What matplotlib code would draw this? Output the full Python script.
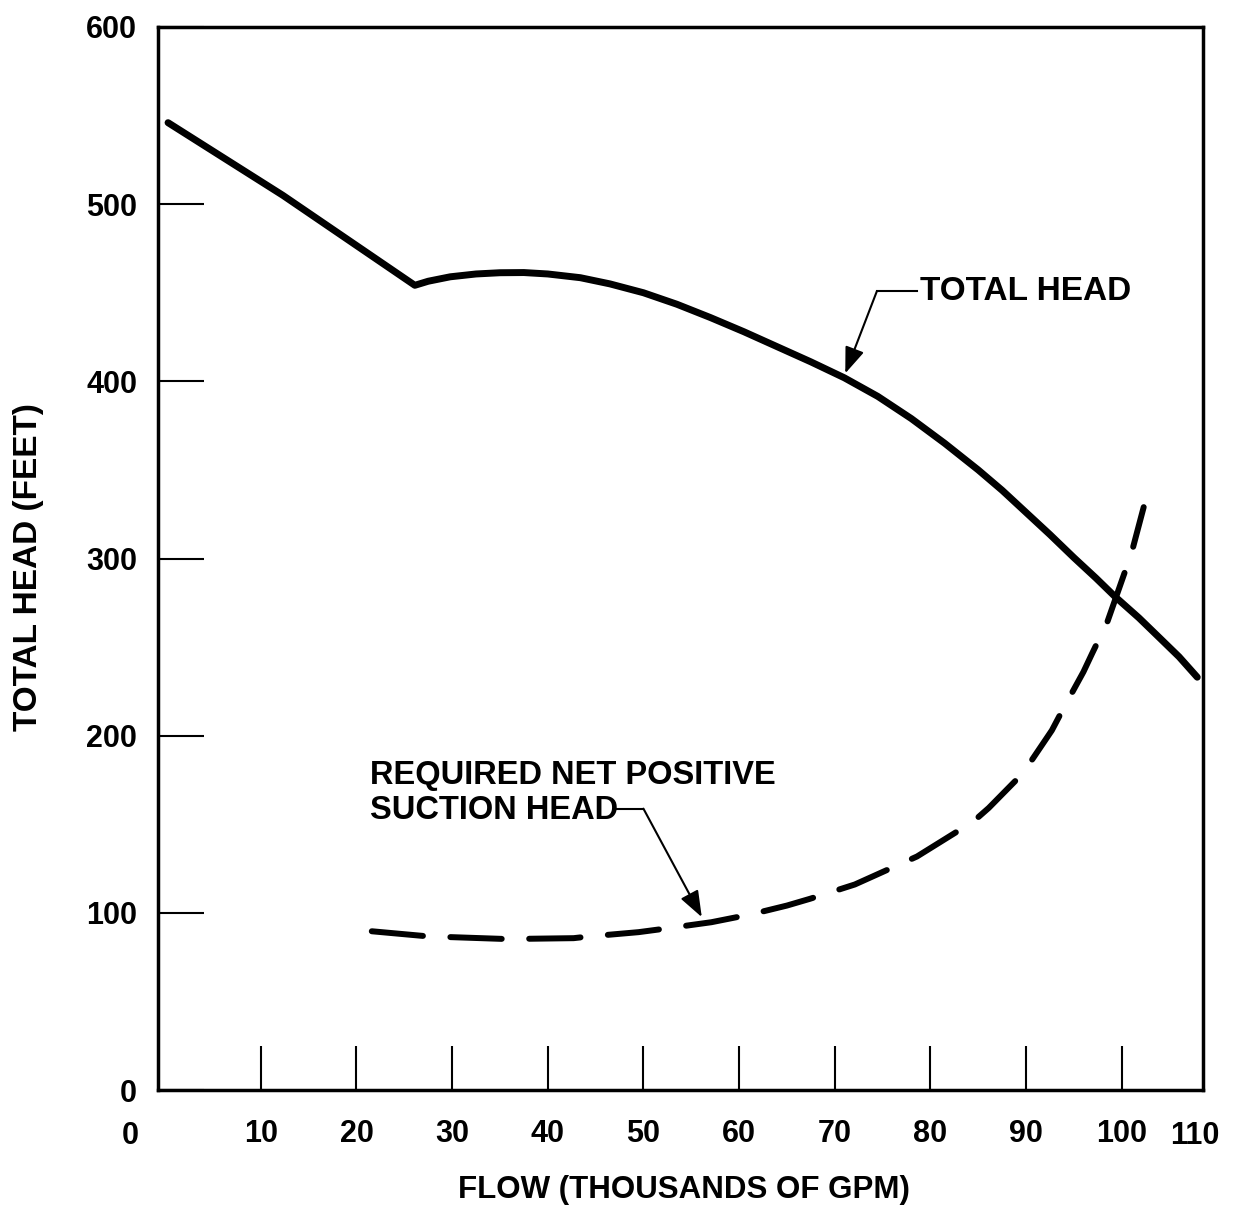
import matplotlib
matplotlib.use("Agg")
import matplotlib.pyplot as plt

# ---- data ----
flow_total = [0.3, 12.3, 26.1, 27.5, 29.8, 32.5, 35.0, 37.5, 40.0, 43.4, 46.5, 50.0,
              53.5, 57.0, 60.5, 64.0, 67.5, 71.0, 74.5, 78.0, 81.5, 85.0, 87.5, 90.0,
              92.5, 95.0, 97.3, 99.3, 101.8, 104.0, 106.0, 107.9]
head_total = [546.0, 505.0, 454.2, 456.5, 459.0, 460.6, 461.3, 461.4, 460.6, 458.5, 455.0, 450.0,
              443.5, 436.0, 428.0, 419.5, 411.0, 402.0, 391.5, 379.0, 365.0, 350.0, 338.5, 326.0,
              313.5, 300.5, 289.0, 278.5, 266.5, 255.0, 244.5, 233.0]

flow_npsh = [21.6, 27.3, 29.8, 35.2, 37.1, 42.7, 44.2, 49.5, 51.6, 57.1, 59.8, 62.2,
             65.0, 67.4, 72.1, 74.2, 78.6, 80.3, 84.5, 86.1, 89.0, 90.3, 92.7, 93.9,
             96.0, 96.9, 98.5, 100.7, 101.2, 102.3]
head_npsh = [89.6, 86.8, 86.3, 85.3, 85.3, 85.7, 86.6, 89.1, 90.6, 94.7, 97.6, 100.4,
             104.1, 107.9, 116.0, 121.1, 131.8, 137.5, 151.6, 159.2, 175.1, 183.8, 203.0, 215.3,
             236.0, 246.3, 264.2, 298.1, 306.6, 329.0]

x_ticks = [10, 20, 30, 40, 50, 60, 70, 80, 90, 100]
x_ticklabels = ["10", "20", "30", "40", "50", "60", "70", "80", "90", "100"]
x_extra_labels = ["0", "110"]
y_ticks = [0, 100, 200, 300, 400, 500, 600]
y_ticklabels = ["0", "100", "200", "300", "400", "500", "600"]

xlabel = "FLOW (THOUSANDS OF GPM)"
ylabel = "TOTAL HEAD (FEET)"
label_total = "TOTAL HEAD"
label_npsh = "REQUIRED NET POSITIVE\nSUCTION HEAD"

# ---- figure ----
plt.rcParams['font.family'] = ['Liberation Sans', 'DejaVu Sans']
W, H = 1240, 1211
fig = plt.figure(figsize=(W / 100, H / 100), dpi=100)
ax = fig.add_axes([158 / W, (H - 1090) / H, 1045 / W, (1090 - 27) / H])

ax.plot(flow_total, head_total, color='black', lw=5.0, solid_capstyle='round',
        solid_joinstyle='round')
ax.plot(flow_npsh, head_npsh, color='black', lw=4.3, linestyle=(0, (8.6, 4.6)),
        dash_capstyle='round', dash_joinstyle='round')

ax.set_xlim(-0.75, 108.5)
ax.set_ylim(0, 600)

for s in ax.spines.values():
    s.set_linewidth(2.5)

TICK_FS = 22
ax.set_xticks(x_ticks)
ax.set_xticklabels(x_ticklabels)
ax.set_yticks(y_ticks)
ax.set_yticklabels(y_ticklabels)
ax.tick_params(axis='x', direction='in', length=31.5, width=1.5, pad=21,
               labelsize=TICK_FS)
ax.tick_params(axis='y', direction='in', length=33, width=1.5, pad=15,
               labelsize=TICK_FS)
for lab in ax.get_xticklabels() + ax.get_yticklabels():
    lab.set_fontweight('bold')

# extra x labels at the corners
ax.text(-3.7, -0.029, x_extra_labels[0], transform=ax.get_xaxis_transform(),
        ha='center', va='top', fontsize=TICK_FS, fontweight='bold', clip_on=False)
ax.text(107.6, -0.029, x_extra_labels[1], transform=ax.get_xaxis_transform(),
        ha='center', va='top', fontsize=TICK_FS, fontweight='bold', clip_on=False)

# axis labels
fig.text(684 / W, (H - 1198) / H, xlabel, ha='center', va='baseline',
         fontsize=22.5, fontweight='bold')
fig.text(37 / W, (H - 567) / H, ylabel, ha='center', va='baseline',
         rotation=90, rotation_mode='anchor', fontsize=24, fontweight='bold')

# annotation: total head
ax.plot([74.4, 78.6], [450.8, 450.8], color='black', lw=1.5)
ax.annotate('', xy=(71.1, 404.5), xytext=(74.4, 450.8),
            arrowprops=dict(arrowstyle='-|>,head_length=16,head_width=6',
                            mutation_scale=1, color='black', lw=1.5,
                            shrinkA=0, shrinkB=0))
ax.text(78.9, 445.8, label_total, ha='left', va='baseline', fontsize=24,
        fontweight='bold')

# annotation: NPSH
ax.plot([47.2, 50.0], [158.8, 158.8], color='black', lw=1.5)
ax.annotate('', xy=(56.1, 97.6), xytext=(50.0, 158.8),
            arrowprops=dict(arrowstyle='-|>,head_length=16,head_width=6',
                            mutation_scale=1, color='black', lw=1.5,
                            shrinkA=0, shrinkB=0))
ax.text(21.4, 153.1, label_npsh, ha='left', va='baseline', fontsize=23.5,
        fontweight='bold', linespacing=1.15)

fig.savefig('out.png', dpi=100)
